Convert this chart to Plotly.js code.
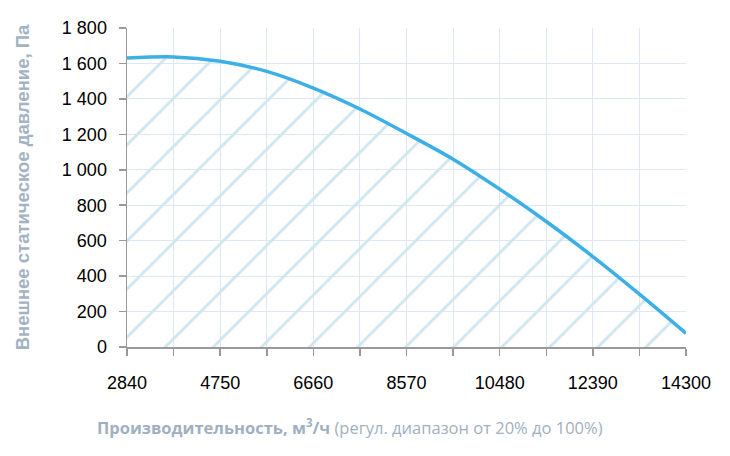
<!DOCTYPE html>
<html>
<head>
<meta charset="utf-8">
<script src="https://cdn.plot.ly/plotly-3.0.1.min.js"></script>
<style>
  html, body { margin: 0; padding: 0; background: #fff; }
  #chart { width: 730px; height: 456px; }
</style>
</head>
<body>
<div id="chart"></div>
<script>
// airflow, m3/h
const flow = [2840, 3795, 4750, 5705, 6660, 7615, 8570, 9525, 10480, 11435, 12390, 13345, 14300];
// external static pressure, Pa
const pressure = [1631, 1637, 1612, 1555, 1461, 1343, 1205, 1060, 891, 708, 510, 298, 77];
// labeled x ticks and the unlabeled ones between them
const flowTicks = [2840, 4750, 6660, 8570, 10480, 12390, 14300];
const flowTickText = ['2840', '4750', '6660', '8570', '10480', '12390', '14300'];
const flowMinorTicks = [3795, 5705, 7615, 9525, 11435, 13345];

const curve = {
  x: flow,
  y: pressure,
  type: 'scatter',
  mode: 'lines',
  line: { color: '#3cafe6', width: 3.5, shape: 'spline', smoothing: 0.8 },
  fill: 'tozeroy',
  fillcolor: 'rgba(255,255,255,0)',
  fillpattern: { shape: '/', size: 34, solidity: 0.085, fgcolor: '#cfe6f0', bgcolor: 'rgba(255,255,255,0)' },
  hoverinfo: 'x+y',
  showlegend: false
};

const gridColor = '#dde8f5';
const axisColor = '#999';

const layout = {
  width: 730,
  height: 456,
  margin: { l: 127, r: 44, t: 28, b: 109 },
  paper_bgcolor: '#fff',
  plot_bgcolor: '#fff',
  separators: ', ',
  font: { family: 'Liberation Sans, Arial, sans-serif', size: 18, color: '#000' },
  xaxis: {
    range: [2840, 14300],
    tickvals: flowTicks,
    ticktext: flowTickText,
    minor: { tickvals: flowMinorTicks, ticks: 'outside', ticklen: 7, tickcolor: axisColor, tickwidth: 1.5, showgrid: true, gridcolor: gridColor, gridwidth: 1 },
    showgrid: true,
    gridcolor: gridColor,
    gridwidth: 1,
    zeroline: false,
    showline: true,
    linecolor: axisColor,
    linewidth: 1.5,
    ticks: 'outside',
    ticklen: 7,
    tickcolor: axisColor,
    tickwidth: 1.5,
    ticklabelstandoff: 12
  },
  yaxis: {
    range: [0, 1800],
    dtick: 200,
    tick0: 0,
    separatethousands: true,
    showgrid: true,
    gridcolor: gridColor,
    gridwidth: 1,
    zeroline: false,
    showline: true,
    linecolor: axisColor,
    linewidth: 1.5,
    ticks: 'outside',
    ticklen: 7,
    tickcolor: axisColor,
    tickwidth: 1.5,
    ticklabelstandoff: 8,
    title: {
      text: '<b>Внешнее статическое давление, Па</b>',
      font: { family: 'Liberation Sans, Arial, sans-serif', size: 18.5, color: '#a3b3c3' },
      standoff: 27
    }
  },
  annotations: [{
    xref: 'paper', yref: 'paper',
    x: 0.399, y: -0.251,
    xanchor: 'center', yanchor: 'middle',
    showarrow: false,
    text: '<b>Производительность, м<sup>3</sup>/ч</b> (регул. диапазон от 20% до 100%)',
    font: { family: 'Open Sans, sans-serif', size: 16.5, color: '#9fb0c1' }
  }]
};

Plotly.newPlot('chart', [curve], layout, { displayModeBar: false, staticPlot: true }).then(function (gd) {
  // shift the hatch tile so the stripes fall where they do in the original
  gd.querySelectorAll('pattern').forEach(function (p) { p.setAttribute('x', 20.7); });
});
</script>
</body>
</html>
